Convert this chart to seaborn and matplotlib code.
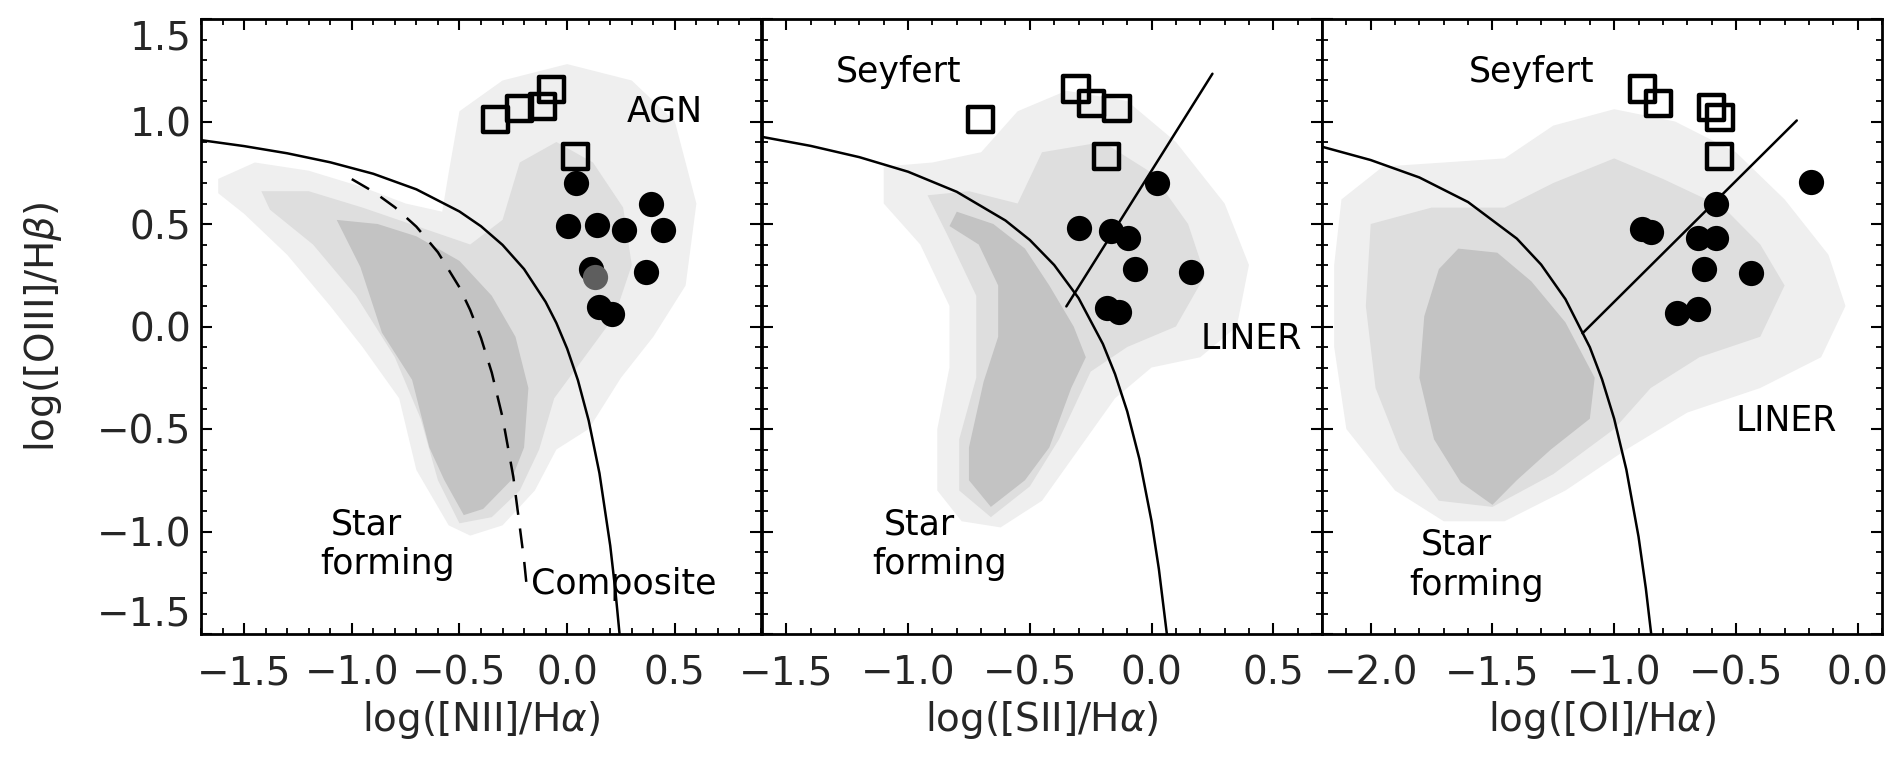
import numpy as np
import pandas as pd
import matplotlib
matplotlib.use("Agg")
import matplotlib.pyplot as plt
import seaborn as sns
from matplotlib.ticker import MultipleLocator

sns.set_style("ticks")
plt.rcParams['font.family'] = ['DejaVu Sans']
plt.rcParams['mathtext.fontset'] = 'dejavusans'

# ---------------- data ----------------
# Panel 1: [NII]/Ha
n2_sq_x = [-0.333, -0.221, -0.115, -0.074, 0.038]
n2_sq_y = [1.008, 1.065, 1.073, 1.155, 0.828]
n2_ci_x = [0.043, 0.005, 0.139, 0.263, 0.387, 0.443, 0.110, 0.364, 0.150, 0.207]
n2_ci_y = [0.698, 0.490, 0.495, 0.470, 0.600, 0.470, 0.282, 0.266, 0.094, 0.062]
n2_gray_x = [0.128]
n2_gray_y = [0.241]

# Panel 2: [SII]/Ha
s2_sq_x = [-0.704, -0.310, -0.248, -0.142, -0.185]
s2_sq_y = [1.008, 1.158, 1.086, 1.065, 0.828]
s2_ci_x = [0.022, -0.296, -0.166, -0.096, -0.067, 0.164, -0.185, -0.135]
s2_ci_y = [0.701, 0.481, 0.466, 0.434, 0.282, 0.266, 0.091, 0.070]

# Panel 3: [OI]/Ha
o1_sq_x = [-0.884, -0.817, -0.599, -0.565, -0.568]
o1_sq_y = [1.158, 1.086, 1.070, 1.021, 0.828]
o1_ci_x = [-0.191, -0.582, -0.884, -0.849, -0.657, -0.582, -0.632, -0.438, -0.741, -0.657]
o1_ci_y = [0.706, 0.600, 0.478, 0.461, 0.434, 0.434, 0.282, 0.261, 0.065, 0.087]

# Demarcation curves
ke_n2_x = [-1.7, -1.5, -1.3, -1.1, -0.9, -0.7, -0.5, -0.4, -0.3, -0.2, -0.1, -0.05, 0.0, 0.05, 0.1, 0.15, 0.2, 0.225, 0.243]
ke_n2_y = [0.909, 0.880, 0.845, 0.801, 0.745, 0.669, 0.561, 0.489, 0.398, 0.280, 0.120, 0.017, -0.108, -0.262, -0.459, -0.716, -1.069, -1.300, -1.497]
ka_n2_x = [-1.0, -0.9, -0.8, -0.7, -0.6, -0.5, -0.45, -0.4, -0.35, -0.3, -0.25, -0.2, -0.185]
ka_n2_y = [0.719, 0.658, 0.582, 0.487, 0.362, 0.191, 0.080, -0.056, -0.225, -0.443, -0.733, -1.140, -1.296]

ke_s2_x = [-1.6, -1.4, -1.2, -1.0, -0.8, -0.6, -0.5, -0.4, -0.3, -0.2, -0.15, -0.1, -0.05, 0.0, 0.03, 0.063]
ke_s2_y = [0.925, 0.881, 0.826, 0.755, 0.657, 0.517, 0.422, 0.300, 0.139, -0.085, -0.232, -0.414, -0.646, -0.950, -1.183, -1.502]
sy_s2_x = [-0.35, 0.25]
sy_s2_y = [0.098, 1.233]

ke_o1_x = [-2.2, -2.0, -1.8, -1.6, -1.4, -1.3, -1.2, -1.1, -1.05, -1.0, -0.95, -0.9, -0.87, -0.848]
ke_o1_y = [0.877, 0.812, 0.727, 0.607, 0.429, 0.302, 0.133, -0.101, -0.257, -0.450, -0.698, -1.025, -1.277, -1.4995]
sy_o1_x = [-1.13, -0.25]
sy_o1_y = [-0.033, 1.005]

# Outline of the SDSS galaxy cloud (halo / mid-density / core)
n2_halo_x = [-1.62, -1.45, -1.2, -0.95, -0.75, -0.58, -0.55, -0.5, -0.3, 0.0, 0.3, 0.5, 0.6, 0.55, 0.4, 0.25, 0.1, -0.05, -0.15, -0.3, -0.45, -0.55, -0.7, -0.78, -0.95, -1.1, -1.3, -1.5, -1.62]
n2_halo_y = [0.72, 0.80, 0.76, 0.68, 0.60, 0.56, 0.75, 1.05, 1.20, 1.28, 1.20, 1.00, 0.60, 0.20, -0.05, -0.25, -0.50, -0.60, -0.80, -0.97, -1.02, -0.97, -0.70, -0.35, -0.10, 0.10, 0.35, 0.55, 0.65]
n2_mid_x = [-1.42, -1.2, -0.95, -0.7, -0.45, -0.3, -0.22, -0.05, 0.12, 0.26, 0.3, 0.22, 0.08, -0.06, -0.13, -0.22, -0.35, -0.5, -0.6, -0.68, -0.8, -0.98, -1.18, -1.38]
n2_mid_y = [0.66, 0.66, 0.58, 0.49, 0.40, 0.52, 0.80, 0.90, 0.80, 0.58, 0.30, 0.05, -0.15, -0.35, -0.60, -0.80, -0.93, -0.96, -0.75, -0.45, -0.15, 0.15, 0.40, 0.57]
n2_core_x = [-1.07, -0.96, -0.86, -0.72, -0.64, -0.57, -0.48, -0.39, -0.26, -0.20, -0.18, -0.24, -0.35, -0.50, -0.70, -0.88]
n2_core_y = [0.52, 0.29, -0.03, -0.26, -0.59, -0.75, -0.92, -0.89, -0.75, -0.59, -0.30, -0.05, 0.15, 0.32, 0.44, 0.50]

s2_halo_x = [-1.1, -0.9, -0.7, -0.55, -0.35, -0.1, 0.1, 0.3, 0.4, 0.35, 0.2, 0.0, -0.15, -0.3, -0.45, -0.62, -0.78, -0.88, -0.88, -0.83, -0.83, -0.95, -1.1]
s2_halo_y = [0.78, 0.80, 0.85, 1.05, 1.15, 1.10, 0.90, 0.60, 0.30, 0.00, -0.15, -0.20, -0.35, -0.60, -0.85, -0.98, -0.95, -0.80, -0.50, -0.20, 0.10, 0.40, 0.60]
s2_mid_x = [-0.92, -0.75, -0.55, -0.45, -0.2, 0.0, 0.15, 0.22, 0.1, -0.1, -0.25, -0.38, -0.5, -0.66, -0.79, -0.79, -0.72, -0.72, -0.84]
s2_mid_y = [0.64, 0.66, 0.60, 0.85, 0.90, 0.75, 0.50, 0.25, 0.00, -0.10, -0.22, -0.55, -0.78, -0.93, -0.80, -0.55, -0.25, 0.15, 0.45]
s2_core_x = [-0.80, -0.65, -0.52, -0.42, -0.32, -0.27, -0.33, -0.42, -0.52, -0.66, -0.75, -0.75, -0.69, -0.63, -0.63, -0.71, -0.83]
s2_core_y = [0.56, 0.50, 0.38, 0.20, 0.00, -0.15, -0.30, -0.59, -0.75, -0.88, -0.75, -0.59, -0.27, -0.05, 0.20, 0.40, 0.49]

o1_halo_x = [-2.12, -1.95, -1.7, -1.45, -1.25, -1.0, -0.75, -0.5, -0.3, -0.12, -0.05, -0.15, -0.4, -0.7, -0.95, -1.2, -1.45, -1.7, -1.9, -2.1, -2.15, -2.15]
o1_halo_y = [0.62, 0.78, 0.80, 0.82, 0.98, 1.06, 1.00, 0.85, 0.62, 0.35, 0.10, -0.15, -0.30, -0.42, -0.60, -0.80, -0.95, -0.95, -0.80, -0.50, -0.10, 0.30]
o1_mid_x = [-2.0, -1.75, -1.45, -1.25, -1.0, -0.8, -0.55, -0.4, -0.3, -0.4, -0.65, -0.85, -1.0, -1.25, -1.5, -1.72, -1.88, -1.98, -2.02]
o1_mid_y = [0.50, 0.58, 0.58, 0.70, 0.82, 0.72, 0.58, 0.40, 0.20, -0.05, -0.15, -0.30, -0.50, -0.72, -0.88, -0.85, -0.60, -0.30, 0.10]
o1_core_x = [-1.64, -1.48, -1.34, -1.20, -1.08, -1.10, -1.26, -1.40, -1.50, -1.63, -1.74, -1.80, -1.78, -1.72]
o1_core_y = [0.38, 0.36, 0.22, 0.02, -0.25, -0.45, -0.60, -0.75, -0.87, -0.76, -0.55, -0.25, 0.05, 0.28]

xlims = [(-1.7, 0.9), (-1.6, 0.7), (-2.2, 0.1)]
xticks = [[-1.5, -1.0, -0.5, 0.0, 0.5], [-1.5, -1.0, -0.5, 0.0, 0.5], [-2.0, -1.5, -1.0, -0.5, 0.0]]
ylim = (-1.5, 1.5)
yticks = [-1.5, -1.0, -0.5, 0.0, 0.5, 1.0, 1.5]
xlabels = ['log([NII]/H$\\alpha$)', 'log([SII]/H$\\alpha$)', 'log([OI]/H$\\alpha$)']
ylabel = 'log([OIII]/H$\\beta$)'

# ---------------- figure ----------------
W, H = 1903, 759
fig = plt.figure(figsize=(W / 100, H / 100), dpi=100)
lefts = [201, 762, 1322]
axes = [fig.add_axes([l / W, 125 / H, 560 / W, 615 / H]) for l in lefts]

C_HALO, C_MID, C_CORE = '#efefef', '#dedede', '#c3c3c3'
clouds = [
    (n2_halo_x, n2_halo_y, n2_mid_x, n2_mid_y, n2_core_x, n2_core_y),
    (s2_halo_x, s2_halo_y, s2_mid_x, s2_mid_y, s2_core_x, s2_core_y),
    (o1_halo_x, o1_halo_y, o1_mid_x, o1_mid_y, o1_core_x, o1_core_y),
]
squares = [(n2_sq_x, n2_sq_y), (s2_sq_x, s2_sq_y), (o1_sq_x, o1_sq_y)]
circles = [(n2_ci_x, n2_ci_y), (s2_ci_x, s2_ci_y), (o1_ci_x, o1_ci_y)]

LW = 1.8
for i, ax in enumerate(axes):
    hx, hy, mx, my, cx, cy = clouds[i]
    ax.fill(hx, hy, color=C_HALO, lw=0, zorder=0)
    ax.fill(mx, my, color=C_MID, lw=0, zorder=0.1)
    ax.fill(cx, cy, color=C_CORE, lw=0, zorder=0.2)

    sq = pd.DataFrame({'x': squares[i][0], 'y': squares[i][1]})
    ci = pd.DataFrame({'x': circles[i][0], 'y': circles[i][1]})
    sns.scatterplot(data=ci, x='x', y='y', ax=ax, marker='o', s=330, color='black',
                    linewidth=0, zorder=4)
    sns.scatterplot(data=sq, x='x', y='y', ax=ax, marker='s', s=330, color='black',
                    facecolors='none', edgecolor='black', linewidth=3.2, zorder=5)

# curves
axes[0].plot(ke_n2_x, ke_n2_y, color='black', lw=LW, zorder=3)
axes[0].plot(ka_n2_x, ka_n2_y, color='black', lw=LW, zorder=3, dashes=(8, 5.5))
gr = pd.DataFrame({'x': n2_gray_x, 'y': n2_gray_y})
sns.scatterplot(data=gr, x='x', y='y', ax=axes[0], marker='o', s=330, color='#5e5e5e',
                linewidth=0, zorder=4.5)
axes[1].plot(ke_s2_x, ke_s2_y, color='black', lw=LW, zorder=3)
axes[1].plot(sy_s2_x, sy_s2_y, color='black', lw=LW, zorder=3)
axes[2].plot(ke_o1_x, ke_o1_y, color='black', lw=LW, zorder=3)
axes[2].plot(sy_o1_x, sy_o1_y, color='black', lw=LW, zorder=3)

# annotations
FS_T = 25
def lab(ax, x, y, s, ha='left'):
    ax.text(x, y, s, ha=ha, va='baseline', fontsize=FS_T, color='black', zorder=6)

lab(axes[0], 0.454, 1.0, 'AGN', ha='center')
lab(axes[0], -1.098, -1.013, 'Star')
lab(axes[0], -1.145, -1.208, 'forming')
lab(axes[0], 0.262, -1.306, 'Composite', ha='center')
lab(axes[1], -1.041, 1.195, 'Seyfert', ha='center')
lab(axes[1], 0.408, -0.108, 'LINER', ha='center')
lab(axes[1], -1.101, -1.013, 'Star')
lab(axes[1], -1.148, -1.208, 'forming')
lab(axes[2], -1.34, 1.195, 'Seyfert', ha='center')
lab(axes[2], -0.295, -0.509, 'LINER', ha='center')
lab(axes[2], -1.796, -1.112, 'Star')
lab(axes[2], -1.843, -1.308, 'forming')

FS_TICK = 28
for i, ax in enumerate(axes):
    ax.set_xlim(*xlims[i])
    ax.set_ylim(*ylim)
    ax.set_xticks(xticks[i])
    ax.set_xticklabels(['\u2212%.1f' % abs(v) if v < 0 else '%.1f' % v for v in xticks[i]])
    ax.set_yticks(yticks)
    ax.xaxis.set_minor_locator(MultipleLocator(0.1))
    ax.yaxis.set_minor_locator(MultipleLocator(0.1))
    ax.tick_params(which='major', direction='in', top=True, right=True, length=8, width=1.5,
                   labelsize=FS_TICK, color='black')
    ax.tick_params(which='minor', direction='in', top=True, right=True, length=4.3, width=1.3,
                   color='black')
    ax.tick_params(axis='x', which='major', pad=15)
    ax.tick_params(axis='y', which='major', pad=7)
    for sp in ax.spines.values():
        sp.set_linewidth(2.0)
        sp.set_color('black')
    ax.set_xlabel(xlabels[i], fontsize=28)
    ax.xaxis.set_label_coords(0.5, -0.105)
    if i == 0:
        ax.set_yticklabels(['\u2212%.1f' % abs(v) if v < 0 else '%.1f' % v for v in yticks])
        ax.set_ylabel(ylabel, fontsize=28)
        ax.yaxis.set_label_coords(-0.245, 0.5)
        tl = ax.get_yticklabels()
        tl[-1].set_va('top')
        tl[0].set_va('bottom')
    else:
        ax.set_yticklabels([])
        ax.set_ylabel('')

fig.savefig('out.png', dpi=100)
